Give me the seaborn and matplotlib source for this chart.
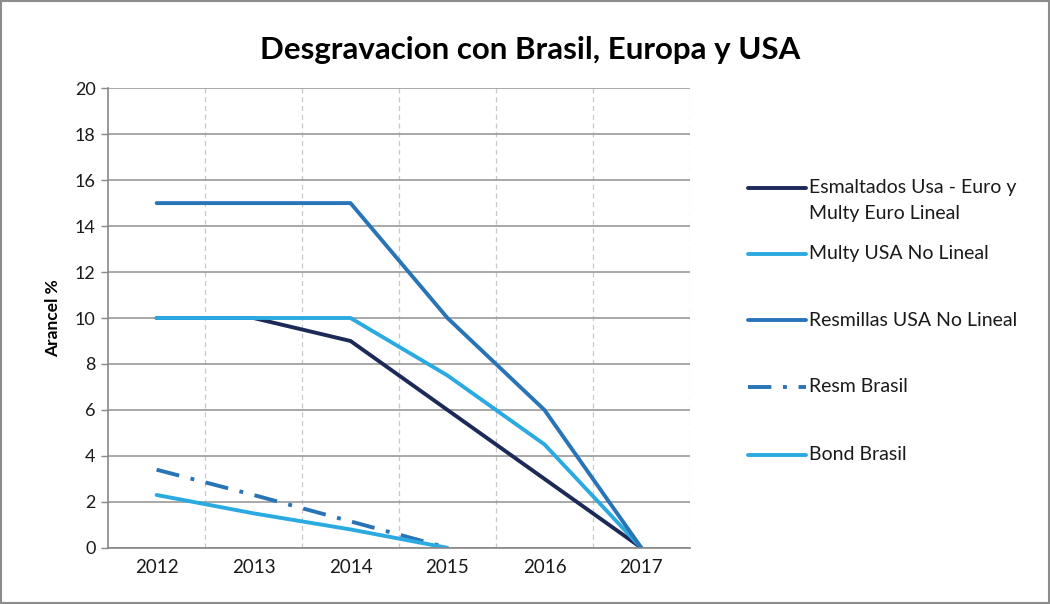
import matplotlib
matplotlib.use("Agg")
import matplotlib.pyplot as plt
import seaborn as sns
import pandas as pd
from matplotlib.patches import Rectangle
from matplotlib.lines import Line2D

years = ["2012", "2013", "2014", "2015", "2016", "2017"]
esmaltados = [10, 10, 9, 6, 3, 0]
multy_usa = [10, 10, 10, 7.5, 4.5, 0]
resmillas = [15, 15, 15, 10, 6, 0]
resm_brasil = [3.4, 2.3, 1.15, 0]
bond_brasil = [2.3, 1.5, 0.8, 0]

series = [
    ("Esmaltados Usa - Euro y\nMulty Euro Lineal", esmaltados, "#1B2A56", "-"),
    ("Multy USA No Lineal", multy_usa, "#2BAAE2", "-"),
    ("Resmillas USA No Lineal", resmillas, "#2874B7", "-"),
    ("Resm Brasil", resm_brasil, "#2874B7", (0, (6, 3, 1, 3))),
    ("Bond Brasil", bond_brasil, "#2BAAE2", "-"),
]

W, H = 1050, 604
sns.set_theme(style="white")
plt.rcParams["font.family"] = ["Lato", "DejaVu Sans"]

fig = plt.figure(figsize=(W / 100, H / 100), dpi=100)
ax = fig.add_axes([0.103, 0.093, 0.554, 0.761])

for name, vals, color, ls in series:
    df = pd.DataFrame({"x": list(range(len(vals))), "y": vals})
    sns.lineplot(data=df, x="x", y="y", ax=ax, color=color, linewidth=2.8,
                 linestyle=ls, legend=False)

ax.set_xlim(-0.5, len(years) - 0.5)
ax.set_ylim(0, 20)
ax.set_yticks(range(0, 21, 2))
ax.set_yticklabels([str(v) for v in range(0, 21, 2)], fontsize=13, color="#1A1A1A")
ax.set_xticks(range(len(years)))
ax.set_xticklabels(years, fontsize=13.5, color="#1A1A1A")
ax.set_xticks([i - 0.5 for i in range(len(years) + 1)], minor=True)
ax.tick_params(axis="x", which="major", length=0, pad=8)
ax.tick_params(axis="x", which="minor", length=6, color="#888888", width=1, direction="out")
ax.tick_params(axis="y", which="major", length=5, color="#888888", width=1, direction="out", left=True, pad=4)

ax.grid(axis="y", color="#9A9A9A", linewidth=1.2)
for xb in [i + 0.5 for i in range(len(years))]:
    ax.axvline(xb, color="#C8C8C8", linewidth=0.9, linestyle=(0, (4, 3)), zorder=0)
ax.set_axisbelow(True)

for s in ["top", "right"]:
    ax.spines[s].set_visible(False)
for s in ["left", "bottom"]:
    ax.spines[s].set_color("#888888")
    ax.spines[s].set_linewidth(1.2)

ax.set_xlabel("")
ax.set_ylabel("Arancel %", fontsize=12.5, fontweight="bold", labelpad=10, color="#000000")

fig.suptitle("Desgravacion con Brasil, Europa y USA", x=0.505, y=0.917,
             fontsize=22.5, fontweight="bold", va="center", color="#000000")

# manual legend (Excel-like layout)
legend_y = [188, 254, 320, 387, 455]
for (name, vals, color, ls), ypx in zip(series, legend_y):
    yf = 1 - ypx / H
    fig.add_artist(Line2D([748 / W, 806 / W], [yf, yf], transform=fig.transFigure,
                          color=color, linewidth=2.8, linestyle=ls))
    for k, line in enumerate(name.split("\n")):
        fig.text(809 / W, 1 - (ypx + 25 * k) / H, line, fontsize=14, va="center",
                 ha="left", color="#1A1A1A")

fig.patches.append(Rectangle((0.001, 0.001), 0.998, 0.997, transform=fig.transFigure,
                             fill=False, edgecolor="#8C8C8C", linewidth=1.5))

fig.savefig("out.png", dpi=100)
